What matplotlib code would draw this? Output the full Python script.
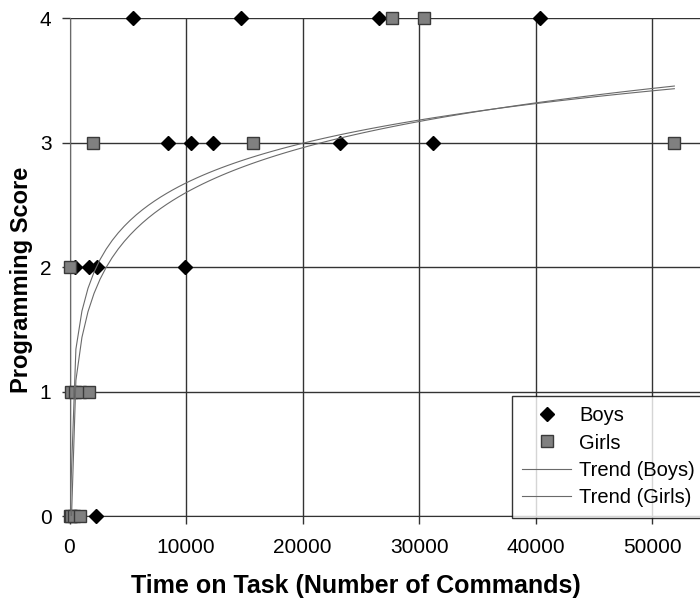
import numpy as np
import matplotlib
matplotlib.use("Agg")
import matplotlib.pyplot as plt

plt.rcParams['font.family'] = ['Liberation Sans', 'DejaVu Sans']

# Data
boys_x = [5475, 14713, 26553, 40366, 8423, 10424, 12337, 23207, 31160, 450, 1673, 2385, 9935, 2247]
boys_y = [4, 4, 4, 4, 3, 3, 3, 3, 3, 2, 2, 2, 2, 0]
girls_x = [27695, 30440, 2042, 15770, 51890, 0, 100, 450, 900, 1700, 0, 150, 400, 900]
girls_y = [4, 4, 3, 3, 3, 2, 1, 1, 1, 1, 0, 0, 0, 0]

# Logarithmic trend lines (y = a*ln(x) + b)
trend_boys = (0.46, -1.56)
trend_girls = (0.52, -2.19)
trend_range = (30, 51890)

x_ticks = [0, 10000, 20000, 30000, 40000, 50000]
y_ticks = [0, 1, 2, 3, 4]

W, H = 700, 602
fig = plt.figure(figsize=(W / 100, H / 100), dpi=100)
left, right, bottom, top = 69.5, 700, 516, 18.3
ax = fig.add_axes([left / W, 1 - bottom / H, (right - left) / W, (bottom - top) / H])

ax.set_xlim(0, 54092)
ax.set_ylim(0, 4)

# markers
ax.plot(boys_x, boys_y, linestyle='none', marker='D', markersize=7.5,
        markerfacecolor='black', markeredgecolor='black', clip_on=False,
        zorder=3, label='Boys')
ax.plot(girls_x, girls_y, linestyle='none', marker='s', markersize=8.3,
        markerfacecolor='#808080', markeredgecolor='#3a3a3a', markeredgewidth=1.0,
        clip_on=False, zorder=4, label='Girls')

# trend lines (sampled linearly like the spreadsheet does)
xs = np.linspace(trend_range[0], trend_range[1], 101)
for (a, b), lab in [(trend_boys, 'Trend (Boys)'), (trend_girls, 'Trend (Girls)')]:
    ax.plot(xs, a * np.log(xs) + b, color='#6a6a6a', lw=0.8, zorder=5, label=lab)

ax.set_xticks(x_ticks)
ax.set_yticks(y_ticks)
ax.set_xticklabels([str(v) for v in x_ticks])
ax.set_yticklabels([str(v) for v in y_ticks])
ax.grid(True, color='#333333', lw=1.0, zorder=0)
ax.set_axisbelow(True)
for s in ['top', 'right']:
    ax.spines[s].set_visible(False)
ax.spines['left'].set_color('#6a6a6a')
ax.spines['bottom'].set_color('#333333')
ax.tick_params(axis='both', direction='out', length=6, width=1.0, color='#333333',
               labelsize=15, labelcolor='black')
ax.tick_params(axis='x', pad=10)
ax.tick_params(axis='y', pad=7)

fig.text(355.5 / W, 1 - 593.3 / H, 'Time on Task (Number of Commands)', ha='center',
         va='baseline', fontsize=18, fontweight='bold')
fig.text(22 / W, 1 - 280 / H, 'Programming Score', ha='center', va='center', rotation=90,
         fontsize=17, fontweight='bold')

leg = ax.legend(loc='upper left', bbox_to_anchor=(512 / W, 1 - 396 / H),
                bbox_transform=fig.transFigure, borderaxespad=0, fontsize=14.5,
                frameon=True, fancybox=False, handlelength=2.45, handletextpad=0.4,
                borderpad=0.5, labelspacing=0.42)
leg.get_frame().set_edgecolor('black')
leg.get_frame().set_linewidth(1.0)
leg.set_zorder(10)

fig.savefig('out.png', dpi=100)
